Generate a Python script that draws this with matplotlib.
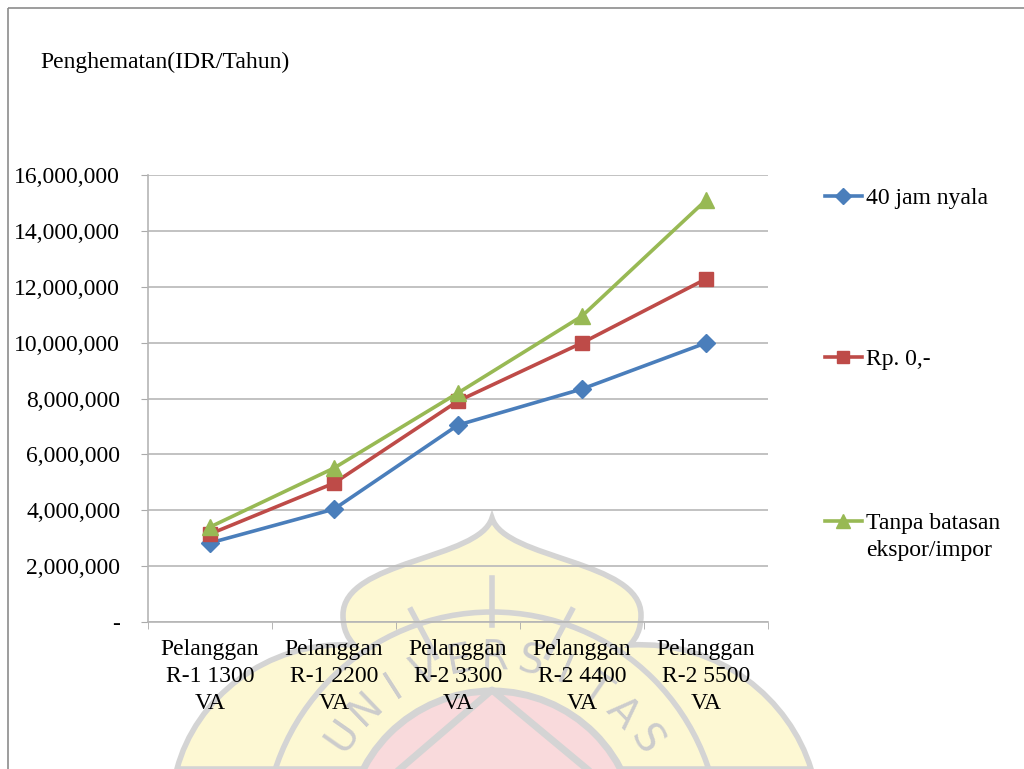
import numpy as np
import matplotlib.pyplot as plt
from matplotlib.lines import Line2D
from matplotlib.patches import PathPatch, Circle, Rectangle
from matplotlib.path import Path
from matplotlib.ticker import FuncFormatter, FixedLocator

plt.rcParams['font.family'] = ['Liberation Serif', 'DejaVu Serif']

categories = ['Pelanggan\nR-1 1300\nVA', 'Pelanggan\nR-1 2200\nVA', 'Pelanggan\nR-2 3300\nVA',
              'Pelanggan\nR-2 4400\nVA', 'Pelanggan\nR-2 5500\nVA']
jam_nyala = [2830000, 4040000, 7050000, 8340000, 9990000]
rp_nol = [3150000, 4970000, 7910000, 9990000, 12280000]
tanpa_batas = [3400000, 5510000, 8200000, 10950000, 15100000]

series = [
    ('40 jam nyala', jam_nyala, '#4a7ebb', 'D', 9),
    ('Rp. 0,-', rp_nol, '#be4b48', 's', 10),
    ('Tanpa batasan\nekspor/impor', tanpa_batas, '#98b954', '^', 11),
]

fig = plt.figure(figsize=(10.24, 7.69), dpi=100)
fig.patch.set_facecolor('white')

# background watermark (university logo), pixel coordinates
bg = fig.add_axes([0, 0, 1, 1], zorder=-5)
bg.set_xlim(0, 1024)
bg.set_ylim(769, 0)
bg.axis('off')

grey = '#d4d4d4'
verts = [(492, 518),
         (505, 560), (641, 560), (641, 615),
         (641, 630), (636, 638), (630, 645),
         (720, 640), (790, 700), (811, 769),
         (177, 769),
         (195, 700), (265, 640), (354, 645),
         (348, 638), (343, 630), (343, 615),
         (343, 560), (479, 560), (492, 518),
         (492, 518)]
codes = ([Path.MOVETO] + [Path.CURVE4] * 9 + [Path.LINETO] +
         [Path.CURVE4] * 9 + [Path.CLOSEPOLY])
bg.add_patch(PathPatch(Path(verts, codes), facecolor='#fdf8d3', edgecolor=grey, lw=4))
bg.add_patch(Circle((492, 840), 228, facecolor='none', edgecolor=grey, lw=4))
bg.add_patch(Circle((492, 836), 145, facecolor='#f9dadc', edgecolor=grey, lw=5))
bg.plot([492, 492], [578, 625], color=grey, lw=4)
bg.plot([400, 492, 587], [769, 690, 769], color=grey, lw=5)
bg.plot([411, 436], [610, 657], color=grey, lw=4)
bg.plot([572, 547], [610, 657], color=grey, lw=4)

letters = 'UNIVERSITAS'
angles = np.linspace(145, 33, len(letters))
for ch, a in zip(letters, angles):
    r = np.deg2rad(a)
    bg.text(492 + 182 * np.cos(r), 840 - 182 * np.sin(r), ch, fontsize=29,
            family='DejaVu Sans', color='#cccccc', rotation=a - 90,
            ha='center', va='center')

# frame border
bg.add_patch(Rectangle((8, 8), 1100, 900, facecolor='none', edgecolor='#8c8c8c', lw=1.2))

# main chart
ax = fig.add_axes([148 / 1024, 1 - 622 / 769, 620 / 1024, 447 / 769])
ax.patch.set_alpha(0)

x = list(range(len(categories)))
for label, vals, color, marker, ms in series:
    ax.plot(x, vals, color=color, lw=2.6, marker=marker, markersize=ms,
            markerfacecolor=color, markeredgecolor=color, label=label, zorder=3)

ax.set_xlim(-0.5, 4.5)
ax.set_ylim(0, 16000000)
ax.set_yticks(range(0, 16000001, 2000000))
ax.yaxis.set_major_formatter(FuncFormatter(lambda v, p: '-' if v == 0 else f'{v:,.0f}'))
ax.grid(axis='y', color='#bdbdbd', lw=1.3)
ax.set_axisbelow(True)

ax.set_xticks(x)
ax.set_xticklabels(categories, linespacing=1.38)
ax.xaxis.set_minor_locator(FixedLocator([-0.5, 0.5, 1.5, 2.5, 3.5, 4.5]))
ax.tick_params(axis='x', which='major', length=0, pad=12, labelsize=17)
ax.tick_params(axis='x', which='minor', length=5, color='#aaaaaa', direction='out')
ax.tick_params(axis='y', length=5, color='#aaaaaa', pad=15, labelsize=17)

for s in ['top', 'right']:
    ax.spines[s].set_visible(False)
ax.spines['left'].set_color('#b5b5b5')
ax.spines['bottom'].set_color('#b5b5b5')
ax.spines['left'].set_linewidth(1.2)
ax.spines['bottom'].set_linewidth(1.2)

fig.text(40 / 1024, 1 - 62 / 769, 'Penghematan(IDR/Tahun)', fontsize=17,
         ha='left', va='center')

# legend entries at the right
legend_y = [196, 357, 521]
for (label, vals, color, marker, ms), py in zip(series, legend_y):
    bg.add_line(Line2D([825, 843, 862], [py, py, py], color=color, lw=2.6,
                       marker=marker, markersize=ms - 1, markevery=[1],
                       markerfacecolor=color, markeredgecolor=color))
    bg.text(866, py - 8, label, fontsize=17, ha='left', va='top', linespacing=1.38)

fig.savefig('out.png', dpi=100)
